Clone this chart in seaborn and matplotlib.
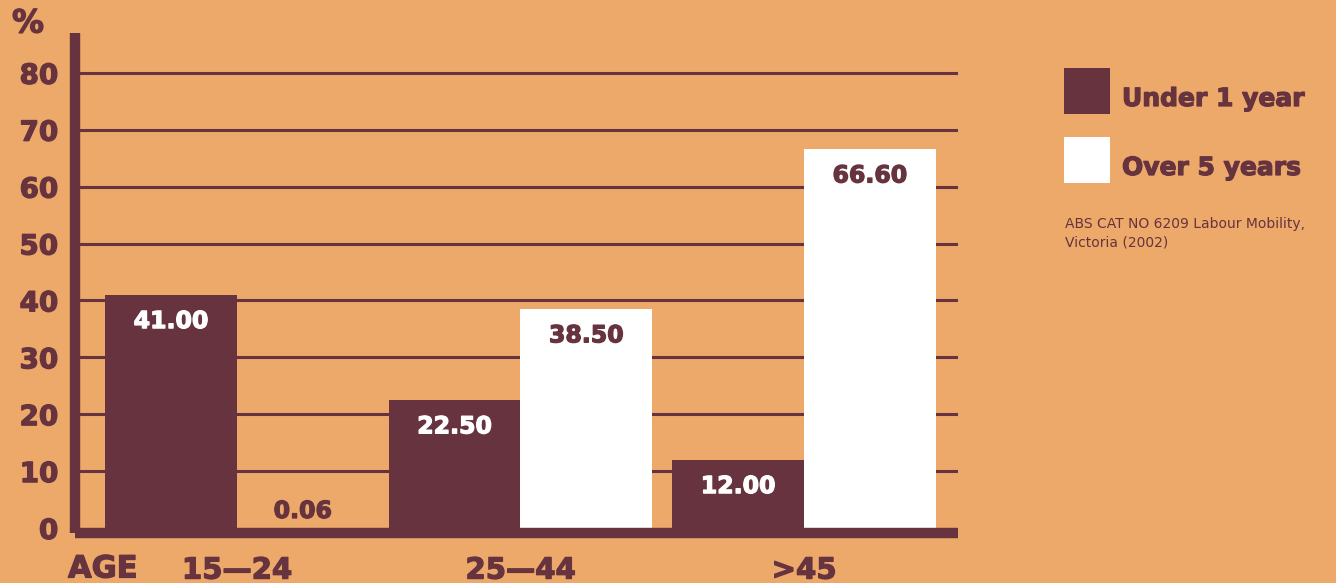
# Labour mobility by age group: bars with values printed inside
import matplotlib.pyplot as plt
import matplotlib.patheffects as pe
from matplotlib.patches import Rectangle
import pandas as pd
import seaborn as sns

edades = ["15\u201424", "25\u201444", ">45"]
grupos = ["Under 1 year", "Over 5 years"]
menos_1 = [41.00, 22.50, 12.00]
mas_5 = [0.06, 38.50, 66.60]
ticks_y = [0, 10, 20, 30, 40, 50, 60, 70, 80]

fondo = "#EDA96A"
granate = "#66333F"


def grueso(color):
    # engorda un poco la letra, la original es una palo seco muy negra
    return [pe.withStroke(linewidth=0.9, foreground=color)]


datos = pd.DataFrame({
    "edad": edades * 2,
    "grupo": [grupos[0]] * 3 + [grupos[1]] * 3,
    "valor": menos_1 + mas_5,
})

sns.set_style("white")
plt.rcParams["font.family"] = ["DejaVu Sans"]

figura = plt.figure(figsize=(13.36, 5.83), dpi=100, facecolor=fondo)
ax = figura.add_axes([75 / 1336, 50 / 583, 883 / 1336, 500 / 583])
ax.set_facecolor(fondo)

sns.barplot(data=datos, x="edad", y="valor", hue="grupo", order=edades,
            hue_order=grupos, palette={grupos[0]: granate, grupos[1]: "white"},
            width=0.93, saturation=1, legend=False, linewidth=0, ax=ax, zorder=3)

ax.set_xlim(-0.571, 2.543)
ax.set_ylim(-0.88, 87)
ax.set_yticks(ticks_y)
ax.set_yticklabels([str(t) for t in ticks_y], fontsize=20, fontweight="bold",
                   color=granate)
ax.set_xticks(range(len(edades)))
ax.set_xticklabels(edades, fontsize=21, fontweight="bold", color=granate)
for lbl in ax.get_yticklabels() + ax.get_xticklabels():
    lbl.set_path_effects(grueso(granate))
ax.tick_params(axis="y", length=0, pad=12)
ax.tick_params(axis="x", length=0, pad=17)
ax.set_xlabel("")
ax.set_ylabel("")

for t in ticks_y[1:]:
    ax.axhline(t, color=granate, lw=2.2, zorder=1)

for lado in ["top", "right"]:
    ax.spines[lado].set_visible(False)
for lado in ["left", "bottom"]:
    ax.spines[lado].set_color(granate)
    ax.spines[lado].set_linewidth(7.5)
    ax.spines[lado].set_capstyle("butt")
    ax.spines[lado].set_zorder(4)

# valores dentro de cada barra
for cont, color_txt in zip(ax.containers, ["white", granate]):
    for barra in cont:
        h = barra.get_height()
        cx = barra.get_x() + barra.get_width() / 2
        dy = -19 if h > 5 else 12
        c = color_txt if h > 5 else granate
        ax.annotate(f"{h:.2f}", (cx, h), xytext=(0, dy), textcoords="offset points",
                    ha="center", va="center", fontsize=17, fontweight="bold",
                    color=c, zorder=5, path_effects=grueso(c))

figura.text(12 / 1336, 1 - 24 / 583, "%", fontsize=23, fontweight="bold",
            color=granate, va="center", ha="left", path_effects=grueso(granate))
figura.text(68 / 1336, 1 - 569 / 583, "AGE", fontsize=22, fontweight="bold",
            color=granate, va="center", ha="left", path_effects=grueso(granate))

# leyenda
for i, (g, c) in enumerate(zip(grupos, [granate, "white"])):
    y0 = 68 + i * 69
    figura.add_artist(Rectangle((1064 / 1336, 1 - (y0 + 46) / 583), 46 / 1336,
                                46 / 583, transform=figura.transFigure,
                                facecolor=c, edgecolor="none"))
    figura.text(1122 / 1336, 1 - (y0 + 31) / 583, g, fontsize=18,
                fontweight="bold", color=granate, va="center", ha="left",
                path_effects=grueso(granate))

figura.text(1065 / 1336, 1 - 233 / 583,
            "ABS CAT NO 6209 Labour Mobility,\nVictoria (2002)",
            fontsize=10, color=granate, va="center", ha="left", linespacing=1.4)

figura.savefig("out.png", dpi=100, facecolor=fondo)
